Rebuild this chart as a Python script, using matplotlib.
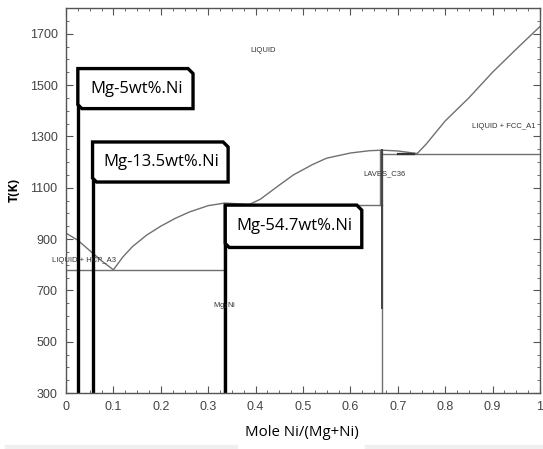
import matplotlib
matplotlib.use("Agg")
import matplotlib.pyplot as plt
from matplotlib.patches import Rectangle

# ============================================
# DATA
# ============================================

# liquidus branches
liq_mg_x = [0.0, 0.025, 0.05, 0.075, 0.1]
liq_mg_t = [923, 895, 855, 815, 780]

liq_mg2ni_x = [0.1, 0.12, 0.14, 0.17, 0.2, 0.23, 0.26, 0.3, 0.335, 0.385]
liq_mg2ni_t = [780, 830, 870, 915, 950, 980, 1005, 1030, 1040, 1035]

liq_laves_x = [0.385, 0.41, 0.45, 0.48, 0.52, 0.55, 0.6, 0.64, 0.667, 0.7, 0.741]
liq_laves_t = [1033, 1055, 1110, 1150, 1190, 1215, 1235, 1244, 1246, 1243, 1233]

liq_ni_x = [0.741, 0.76, 0.8, 0.85, 0.9, 0.95, 1.0]
liq_ni_t = [1233, 1270, 1360, 1450, 1550, 1640, 1728]

# invariant lines (x start, x end, T)
h_lines = [(0.0, 0.333, 780), (0.333, 0.667, 1033), (0.667, 1.0, 1233)]
# compound lines (x, T low, T high)
v_lines = [(0.333, 300, 1033), (0.667, 300, 1246), (0.662, 1033, 1246)]

# phase labels
phase_names = ['LIQUID', 'LIQUID + FCC_A1', 'LAVES_C36', 'LIQUID + HCP_A3', 'Mg$_2$Ni']
phase_x = [0.416, 0.924, 0.671, 0.039, 0.335]
phase_t = [1635, 1337, 1153, 816, 640]

# alloy compositions with their callout boxes
alloy_names = ['Mg-5wt%.Ni', 'Mg-13.5wt%.Ni', 'Mg-54.7wt%.Ni']
alloy_x = [0.025, 0.056, 0.336]
box_right = [0.268, 0.342, 0.624]
box_top = [1564, 1278, 1032]
box_bottom = [1408, 1122, 867]

x_ticks = [0, 0.1, 0.2, 0.3, 0.4, 0.5, 0.6, 0.7, 0.8, 0.9, 1]
x_tick_labels = ['0', '0.1', '0.2', '0.3', '0.4', '0.5', '0.6', '0.7', '0.8', '0.9', '1']
y_ticks = [300, 500, 700, 900, 1100, 1300, 1500, 1700]

# ============================================
# FIGURE
# ============================================

W, H = 543, 449
fig = plt.figure(figsize=(W / 100, H / 100), dpi=100)
ax = fig.add_axes([66 / W, 1 - 393 / H, 474 / W, 385 / H])
ax.set_xlim(0, 1)
ax.set_ylim(300, 1800)

narrow = ['Liberation Sans Narrow', 'Liberation Sans', 'DejaVu Sans']
line_c = '#707070'

for xs, ts in [(liq_mg_x, liq_mg_t), (liq_mg2ni_x, liq_mg2ni_t),
               (liq_laves_x, liq_laves_t), (liq_ni_x, liq_ni_t)]:
    ax.plot(xs, ts, color=line_c, lw=1.0)

for x0, x1, t in h_lines:
    ax.plot([x0, x1], [t, t], color=line_c, lw=1.0)
for x, t0, t1 in v_lines:
    ax.plot([x, x], [t0, t1], color=line_c, lw=1.0)
# darker bits
ax.plot([0.667, 0.667], [633, 1246], color='#444444', lw=1.4)
ax.plot([0.70, 0.735], [1233, 1233], color='#333333', lw=1.6)

for name, x, t in zip(phase_names, phase_x, phase_t):
    ax.text(x, t, name, ha='center', va='center', fontsize=5.5,
            color='#333333', family=narrow, clip_on=False)

# callouts
px_x = 1.0 / 474          # data units per pixel (x)
px_t = 1500.0 / 385       # data units per pixel (T)
for name, x0, x1, top, bot in zip(alloy_names, alloy_x, box_right, box_top, box_bottom):
    c1, c2 = 5, 4
    ax.plot([x0, x0], [300, top], color='black', lw=2.4, solid_capstyle='butt')
    bx = [x0, x1 - c1 * px_x, x1, x1, x0 + c2 * px_x, x0]
    by = [top, top, top - c1 * px_t, bot, bot, bot + c2 * px_t]
    ax.fill(bx, by, facecolor='white', edgecolor='black', lw=2.4,
            joinstyle='miter', zorder=3)
    ax.text((x0 + x1) / 2 + 1 * px_x, (top + bot) / 2, name, ha='center', va='center',
            fontsize=12, family=['Open Sans', 'DejaVu Sans'], color='black', zorder=4)

ax.set_xticks(x_ticks)
ax.set_xticklabels(x_tick_labels)
ax.set_yticks(y_ticks)
ax.set_xticks([i * 0.025 for i in range(41)], minor=True)
ax.set_yticks(list(range(300, 1801, 50)), minor=True)
ax.tick_params(which='both', direction='in', top=True, right=True, color='#555555')
ax.tick_params(which='major', length=5, width=0.8, labelsize=9, labelcolor='#444444', pad=6)
ax.tick_params(which='minor', length=2.5, width=0.6)
for lab in ax.get_xticklabels() + ax.get_yticklabels():
    lab.set_family(narrow)
for sp in ax.spines.values():
    sp.set_color('#555555')
    sp.set_linewidth(1.0)

fig.text(14 / W, 1 - 190 / H, 'T(K)', rotation=90, ha='center', va='center',
         fontsize=9, fontweight='bold', family=['Open Sans', 'DejaVu Sans'])
fig.text(302 / W, 1 - 433 / H, 'Mole Ni/(Mg+Ni)', ha='center', va='center',
         fontsize=10.8, family=['Open Sans', 'DejaVu Sans'], color='black')

# faint strip at the bottom of the screenshot
fig.patches.append(Rectangle((5 / W, 0), 232 / W, 4 / H,
                             transform=fig.transFigure, color='#f0f0f0', zorder=0))
fig.patches.append(Rectangle((365 / W, 0), 178 / W, 4 / H,
                             transform=fig.transFigure, color='#f0f0f0', zorder=0))

fig.savefig('out.png', dpi=100)
print("Saved out.png")
